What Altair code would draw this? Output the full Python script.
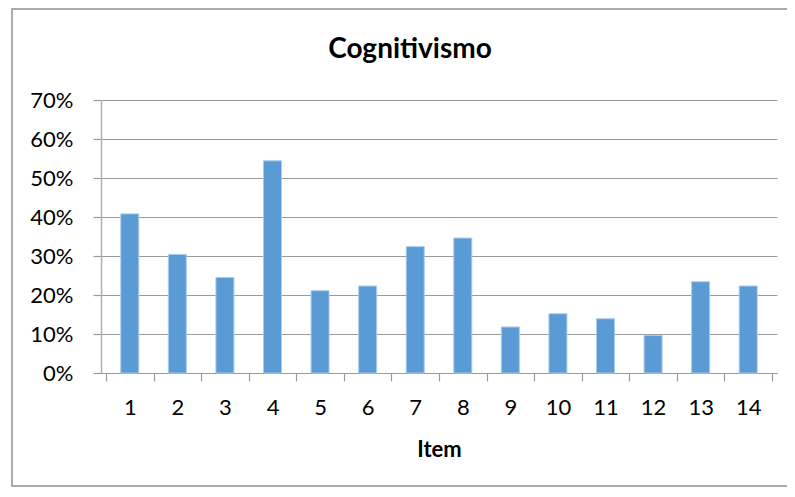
import altair as alt
import pandas as pd

items = list(range(1, 15))
values = [0.408, 0.304, 0.245, 0.544, 0.211, 0.223, 0.324, 0.346, 0.118, 0.152, 0.139, 0.096, 0.234, 0.223]
y_ticks = [0, 0.1, 0.2, 0.3, 0.4, 0.5, 0.6, 0.7]
x_edges = [i + 0.5 for i in range(0, 15)]
chart_title = "Cognitivismo"

df = pd.DataFrame({"item": items, "pct": values})
frame_df = pd.DataFrame({"a": [0]})

FONT = "Lato"
GRID = "#9a9a9a"

xscale = alt.Scale(domain=[0.5, 14.5], nice=False, zero=False)
yscale = alt.Scale(domain=[0, 0.7], nice=False)

ydef = alt.Y("pct:Q", scale=yscale,
             axis=alt.Axis(values=y_ticks, format=".0%", tickSize=8, labelPadding=20,
                           title=None, grid=True, gridColor=GRID, gridWidth=1.2,
                           tickColor=GRID, tickWidth=1.2, domainColor="#b0b0b0",
                           domainWidth=1.5, labelFont=FONT, labelFontSize=22,
                           labelColor="#000", labelFlush=False, orient="left"))

frame = alt.Chart(frame_df).mark_rect(
    fillOpacity=0, stroke="#ababab", strokeWidth=2
).encode(
    x=alt.value(-89), x2=alt.value(700), y=alt.value(-91), y2=alt.value(386)
)

title_mark = alt.Chart(frame_df).mark_text(
    text=chart_title, font=FONT, fontSize=28, fontWeight="bold", color="#000",
    align="center", baseline="alphabetic"
).encode(x=alt.value(309), y=alt.value(-42))

bars = alt.Chart(df).mark_bar(
    size=18, color="#5B9BD5", stroke="#A9CBEA", strokeWidth=1
).encode(
    x=alt.X("item:Q", scale=xscale,
            axis=alt.Axis(values=items, format="d", ticks=False, labelPadding=24,
                          title="Item", titleFont=FONT, titleFontSize=22,
                          titleFontWeight="bold", titleColor="#000",
                          titleBaseline="alphabetic", titleY=83, orient="bottom",
                          grid=False, domain=True, domainColor=GRID, domainWidth=1.2,
                          labelFont=FONT, labelFontSize=22, labelColor="#000",
                          labelFlush=False, labelOverlap=False)),
    y=ydef,
)

tick_layer = alt.Chart(df).mark_bar(opacity=0).encode(
    x=alt.X("item:Q", scale=xscale,
            axis=alt.Axis(values=x_edges, labels=False, tickSize=8, tickColor=GRID,
                          tickWidth=1.2, title=None, grid=False, domain=False,
                          orient="bottom")),
    y=ydef,
)

chart = alt.layer(bars, tick_layer, frame, title_mark).resolve_axis(x="independent").properties(
    width=676, height=273,
    autosize="none",
    padding={"left": 93, "top": 92, "right": 10, "bottom": 116},
).configure_view(stroke=None)

chart.save("out.html", embed_options={"renderer": "svg", "actions": False})
